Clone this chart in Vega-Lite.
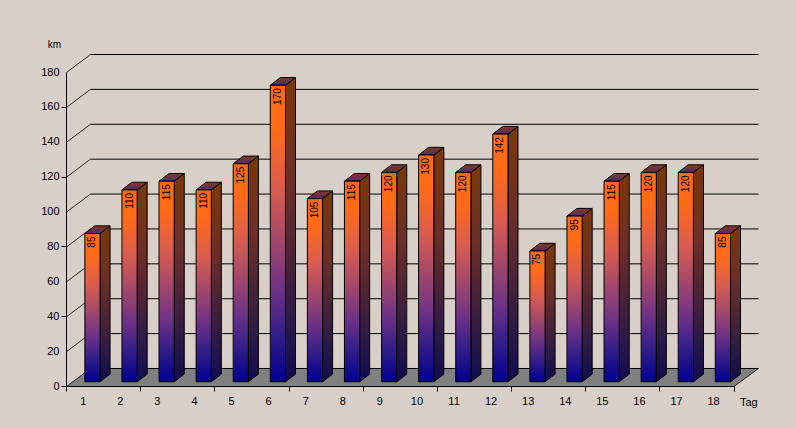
{
"$schema":"https://vega.github.io/schema/vega-lite/v6.json",
"width":692,"height":332,
"autosize":{"type":"none"},
"padding":{"left":66.5,"top":54.5,"right":37.5,"bottom":41.5},
"background":"#D8D0C8",
"view":{"stroke":null},
"config":{"font":"Liberation Sans","axis":{"grid":false,"domain":false,"translate":0,"labels":false,"tickColor":"#000000","tickSize":5,"tickWidth":1}},
"datasets":{
"bars":[{"tag":1,"km":85},{"tag":2,"km":110},{"tag":3,"km":115},{"tag":4,"km":110},{"tag":5,"km":125},{"tag":6,"km":170},{"tag":7,"km":105},{"tag":8,"km":115},{"tag":9,"km":120},{"tag":10,"km":130},{"tag":11,"km":120},{"tag":12,"km":142},{"tag":13,"km":75},{"tag":14,"km":95},{"tag":15,"km":115},{"tag":16,"km":120},{"tag":17,"km":120},{"tag":18,"km":85}],
"grid":[{"km":0},{"km":20},{"km":40},{"km":60},{"km":80},{"km":100},{"km":120},{"km":140},{"km":160},{"km":180}],
"floor":[{"corner":0},{"corner":1}]
},
"resolve":{"scale":{"x":"shared","y":"shared"}},
"layer":[
{"data":{"name":"floor"},
 "transform":[{"calculate":"datum.corner*10.32","as":"ky"},{"calculate":"0.5+datum.corner*0.647","as":"xa"},{"calculate":"18.5+datum.corner*0.66","as":"xb"}],
 "mark":{"type":"area","orient":"horizontal","fill":"#808080","stroke":null,"opacity":1},
 "encoding":{
  "y":{"field":"ky","type":"quantitative","scale":{"domain":[0,190.32],"nice":false,"zero":false},
   "axis":{"values":[0,20,40,60,80,100,120,140,160,180],"labels":false,"title":"km","titleAngle":0,"titleFont":"Liberation Sans","titleFontWeight":"normal","titleFontSize":10,"titleColor":"#000000","titleX":-12,"titleY":-10,"titleAlign":"center","titleBaseline":"middle"}},
  "x":{"field":"xa","type":"quantitative","scale":{"domain":[0.5,19.16],"nice":false,"zero":false},
   "axis":{"values":[0.5,1.5,2.5,3.5,4.5,5.5,6.5,7.5,8.5,9.5,10.5,11.5,12.5,13.5,14.5,15.5,16.5,17.5,18.5],"labels":false,"title":null}},
  "x2":{"field":"xb"}
 }},
{"data":{"name":"grid"},
 "transform":[{"calculate":"datum.km+10.32","as":"back"},{"calculate":"1.147","as":"xl"},{"calculate":"19.16","as":"xr"}],
 "mark":{"type":"rule","color":"#000000","strokeWidth":1},
 "encoding":{"x":{"field":"xl","type":"quantitative"},"x2":{"field":"xr"},"y":{"field":"back","type":"quantitative"}}},
{"data":{"name":"grid"},
 "transform":[{"calculate":"datum.km+10.32","as":"back"},{"calculate":"0.5","as":"xl"},{"calculate":"1.147","as":"xr"}],
 "mark":{"type":"rule","color":"#000000","strokeWidth":0.8},
 "encoding":{"x":{"field":"xl","type":"quantitative"},"x2":{"field":"xr"},"y":{"field":"km","type":"quantitative"},"y2":{"field":"back"}}},
{"data":{"values":[{"e":0}]},
 "transform":[{"calculate":"18.5","as":"xl"},{"calculate":"19.16","as":"xr"},{"calculate":"0","as":"y0"},{"calculate":"10.32","as":"y1"}],
 "mark":{"type":"rule","color":"#000000","strokeWidth":0.8},
 "encoding":{"x":{"field":"xl","type":"quantitative"},"x2":{"field":"xr"},"y":{"field":"y0","type":"quantitative"},"y2":{"field":"y1"}}},
{"data":{"values":[{"e":0}]},
 "transform":[{"calculate":"0.5","as":"xl"},{"calculate":"18.5","as":"xr"},{"calculate":"0","as":"y0"}],
 "mark":{"type":"rule","color":"#000000","strokeWidth":1},
 "encoding":{"x":{"field":"xl","type":"quantitative"},"x2":{"field":"xr"},"y":{"field":"y0","type":"quantitative"}}},
{"data":{"values":[{"e":0}]},
 "transform":[{"calculate":"0.5","as":"xl"},{"calculate":"0","as":"y0"},{"calculate":"180","as":"y1"}],
 "mark":{"type":"rule","color":"#000000","strokeWidth":1},
 "encoding":{"x":{"field":"xl","type":"quantitative"},"y":{"field":"y0","type":"quantitative"},"y2":{"field":"y1"}}},
{"data":{"name":"bars"},
 "transform":[{"calculate":"[0,1]","as":"p"},{"flatten":["p"]},{"calculate":"datum.tag+0.405+datum.p*0.27","as":"sx"},{"calculate":"2.7+datum.p*4.4","as":"sy0"},{"calculate":"datum.sy0+datum.km","as":"sy1"}],
 "mark":{"type":"area","orient":"vertical","stroke":"#000000","strokeWidth":1,"fill":{"gradient":"linear","x1":0,"y1":0,"x2":0,"y2":1,"stops":[{"offset":0,"color":"#7A3808"},{"offset":0.35,"color":"#6C2E28"},{"offset":0.6,"color":"#4A2238"},{"offset":0.8,"color":"#2A1A48"},{"offset":1,"color":"#100A50"}]}},
 "encoding":{"x":{"field":"sx","type":"quantitative"},"y":{"field":"sy0","type":"quantitative"},"y2":{"field":"sy1"},"detail":{"field":"tag"}}},
{"data":{"name":"bars"},
 "transform":[{"calculate":"[0,1]","as":"p"},{"flatten":["p"]},{"calculate":"datum.tag-0.005+datum.p*0.27","as":"tx0"},{"calculate":"datum.tag+0.405+datum.p*0.27","as":"tx1"},{"calculate":"datum.km+2.7+datum.p*4.4","as":"ty"}],
 "mark":{"type":"area","orient":"horizontal","stroke":"#000000","strokeWidth":1,"fill":{"gradient":"linear","x1":0,"y1":0,"x2":0,"y2":1,"stops":[{"offset":0,"color":"#8A3A10"},{"offset":1,"color":"#4A2A80"}]}},
 "encoding":{"x":{"field":"tx0","type":"quantitative"},"x2":{"field":"tx1"},"y":{"field":"ty","type":"quantitative"},"detail":{"field":"tag"}}},
{"data":{"name":"bars"},
 "transform":[{"calculate":"datum.tag-0.005","as":"fx0"},{"calculate":"datum.tag+0.405","as":"fx1"},{"calculate":"2.7","as":"fy0"},{"calculate":"datum.km+2.7","as":"fy1"}],
 "mark":{"type":"rect","stroke":"#000000","strokeWidth":1,"fill":{"gradient":"linear","x1":0,"y1":0,"x2":0,"y2":1,"stops":[{"offset":0,"color":"#FF6A10"},{"offset":0.15,"color":"#FF6A18"},{"offset":0.35,"color":"#D85C50"},{"offset":0.55,"color":"#9A4470"},{"offset":0.7,"color":"#6A3088"},{"offset":0.85,"color":"#301C88"},{"offset":1,"color":"#000090"}]}},
 "encoding":{"x":{"field":"fx0","type":"quantitative"},"x2":{"field":"fx1"},"y":{"field":"fy0","type":"quantitative"},"y2":{"field":"fy1"}}},
{"data":{"name":"bars"},
 "transform":[{"calculate":"datum.tag+0.2","as":"tx"},{"calculate":"datum.km+2.7","as":"ty"}],
 "mark":{"type":"text","angle":270,"align":"right","baseline":"middle","font":"Liberation Sans","fontSize":10,"color":"#000000","dx":-3},
 "encoding":{"x":{"field":"tx","type":"quantitative"},"y":{"field":"ty","type":"quantitative"},"text":{"field":"km","type":"quantitative"}}},
{"data":{"name":"bars"},
 "transform":[{"calculate":"datum.tag-0.05","as":"lx"},{"calculate":"0","as":"ly"}],
 "mark":{"type":"text","align":"center","baseline":"middle","font":"Liberation Sans","fontSize":11,"color":"#000000","dy":15},
 "encoding":{"x":{"field":"lx","type":"quantitative"},"y":{"field":"ly","type":"quantitative"},"text":{"field":"tag","type":"quantitative"}}},
{"data":{"values":[{"label":"Tag"}]},
 "transform":[{"calculate":"18.9","as":"lx"},{"calculate":"0","as":"ly"}],
 "mark":{"type":"text","align":"center","baseline":"middle","font":"Liberation Sans","fontSize":11,"color":"#000000","dy":16},
 "encoding":{"x":{"field":"lx","type":"quantitative"},"y":{"field":"ly","type":"quantitative"},"text":{"field":"label"}}},
{"data":{"name":"grid"},
 "transform":[{"calculate":"0.5","as":"lx"}],
 "mark":{"type":"text","align":"right","baseline":"middle","font":"Liberation Sans","fontSize":11,"color":"#000000","dx":-7},
 "encoding":{"x":{"field":"lx","type":"quantitative"},"y":{"field":"km","type":"quantitative"},"text":{"field":"km","type":"quantitative"}}}
]
}
